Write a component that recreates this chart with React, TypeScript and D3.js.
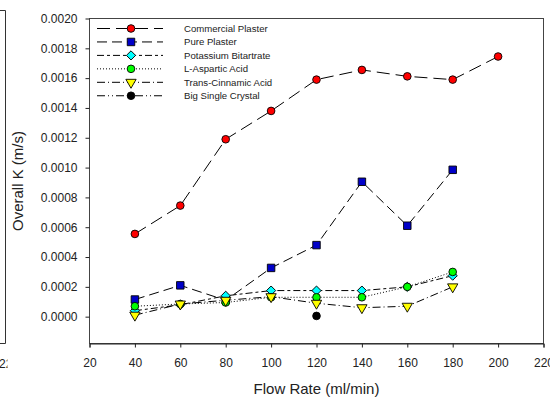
import { useEffect, useRef } from 'react'
import * as d3 from 'd3'

// flow rates (ml/min)
const flowRates = [40, 60, 80, 100, 120, 140, 160, 180, 200]

// Overall K (m/s)
const commercialPlaster = [0.000555, 0.000745, 0.00119, 0.00138, 0.00159, 0.001655, 0.001612, 0.00159, 0.001745]
const purePlaster = [0.000115, 0.00021, 0.00011, 0.000327, 0.00048, 0.000905, 0.00061, 0.000985]
const potassiumBitartrate = [0.00004, 0.00008, 0.00014, 0.000175, 0.000175, 0.000175, 0.0002, 0.000275]
const lAsparticAcid = [0.00007, 0.000085, 0.000095, 0.00013, 0.00013, 0.00013, 0.0002, 0.0003]
const transCinnamicAcid = [0.00001, 0.000085, 0.00011, 0.000134, 0.00009, 0.00006, 0.00007, 0.0002]
const bigSingleCrystalX = [120]
const bigSingleCrystal = [0.000005]

const xTicks = [20, 40, 60, 80, 100, 120, 140, 160, 180, 200, 220]
const yTicks = [0, 0.0002, 0.0004, 0.0006, 0.0008, 0.001, 0.0012, 0.0014, 0.0016, 0.0018, 0.002]

interface Series {
  name: string
  xs: number[]
  ys: number[]
  fill: string
  symbol: 'circle' | 'square' | 'diamond' | 'triangleDown'
  dash: string
}

const series: Series[] = [
  { name: 'Commercial Plaster', xs: flowRates, ys: commercialPlaster, fill: '#ff0000', symbol: 'circle', dash: '13,6' },
  { name: 'Pure Plaster', xs: flowRates, ys: purePlaster, fill: '#0000c8', symbol: 'square', dash: '10,5' },
  { name: 'Potassium Bitartrate', xs: flowRates, ys: potassiumBitartrate, fill: '#00ffff', symbol: 'diamond', dash: '7,3,3,3' },
  { name: 'L-Aspartic Acid', xs: flowRates, ys: lAsparticAcid, fill: '#00ff00', symbol: 'circle', dash: '1,2' },
  { name: 'Trans-Cinnamic Acid', xs: flowRates, ys: transCinnamicAcid, fill: '#ffff00', symbol: 'triangleDown', dash: '8,3,1,3' },
  { name: 'Big Single Crystal', xs: bigSingleCrystalX, ys: bigSingleCrystal, fill: '#000000', symbol: 'circle', dash: '8,3,1,3,1,3' },
]

const FONT = '"Liberation Sans", Arial, Helvetica, sans-serif'

export default function App() {
  const svgRef = useRef<SVGSVGElement>(null)

  useEffect(() => {
    if (!svgRef.current) return
    const width = 550
    const height = 398
    const left = 89.5
    const right = 543.5
    const top = 18.5
    const bottom = 343.5

    const svg = d3.select(svgRef.current)
    svg.selectAll('*').remove()
    svg.attr('width', width).attr('height', height)

    svg.append('rect').attr('width', width).attr('height', height).attr('fill', '#fff')

    const xScale = d3.scaleLinear().domain([20, 220]).range([left, right])
    const yScale = d3.scaleLinear().domain([-0.00018, 0.002]).range([bottom, top])

    // fragment of the neighbouring chart at the left edge
    svg.append('path')
      .attr('d', `M0,10.5 H5.5 V${bottom} H0`)
      .attr('fill', 'none')
      .attr('stroke', '#333')
      .attr('stroke-width', 1)
    svg.append('defs').append('clipPath').attr('id', 'frag')
      .append('rect').attr('x', 0).attr('y', 340).attr('width', 7.5).attr('height', 40)
    svg.append('text')
      .attr('x', -1)
      .attr('y', 368)
      .attr('clip-path', 'url(#frag)')
      .attr('font-family', FONT)
      .attr('font-size', 12)
      .attr('fill', '#222')
      .text('220')

    // frame
    svg.append('rect')
      .attr('x', left).attr('y', top)
      .attr('width', right - left).attr('height', bottom - top)
      .attr('fill', 'none')
      .attr('stroke', '#444')
      .attr('stroke-width', 1)

    // X axis
    const xAxis = svg.append('g')
      .attr('transform', `translate(0,${bottom})`)
      .call(d3.axisBottom(xScale).tickValues(xTicks).tickSize(4).tickPadding(11).tickFormat(d => String(d)))
    xAxis.select('.domain').attr('stroke', '#222')
    xAxis.selectAll('line').attr('stroke', '#222')
    xAxis.selectAll('text').attr('font-family', FONT).attr('font-size', 12).attr('fill', '#222')

    // Y axis
    const yAxis = svg.append('g')
      .attr('transform', `translate(${left},0)`)
      .call(d3.axisLeft(yScale).tickValues(yTicks).tickSize(4).tickPadding(8).tickFormat(d => (+d).toFixed(4)))
    yAxis.select('.domain').remove()
    yAxis.selectAll('line').attr('stroke', '#222')
    yAxis.selectAll('text').attr('font-family', FONT).attr('font-size', 12).attr('fill', '#222')

    // axis titles
    svg.append('text')
      .attr('x', (left + right) / 2)
      .attr('y', 394)
      .attr('text-anchor', 'middle')
      .attr('font-family', FONT)
      .attr('font-size', 15)
      .attr('fill', '#222')
      .text('Flow Rate (ml/min)')

    svg.append('text')
      .attr('transform', `translate(22.5,${(top + bottom) / 2}) rotate(-90)`)
      .attr('text-anchor', 'middle')
      .attr('font-family', FONT)
      .attr('font-size', 15)
      .attr('fill', '#222')
      .text('Overall K (m/s)')

    const drawSymbol = (g: d3.Selection<SVGGElement, unknown, null, undefined>, s: Series, x: number, y: number) => {
      let path = ''
      let rot = 0
      if (s.symbol === 'circle') path = d3.symbol(d3.symbolCircle, 46)() || ''
      if (s.symbol === 'square') path = d3.symbol(d3.symbolSquare, 56)() || ''
      if (s.symbol === 'diamond') { path = d3.symbol(d3.symbolSquare, 42)() || ''; rot = 45 }
      if (s.symbol === 'triangleDown') { path = d3.symbol(d3.symbolTriangle, 46)() || ''; rot = 180 }
      g.append('path')
        .attr('d', path)
        .attr('transform', `translate(${x},${y}) rotate(${rot})`)
        .attr('fill', s.fill)
        .attr('stroke', '#000')
        .attr('stroke-width', 0.9)
    }

    const line = d3.line<[number, number]>()
      .x(d => xScale(d[0]))
      .y(d => yScale(d[1]))

    // series
    series.forEach(s => {
      const g = svg.append('g') as d3.Selection<SVGGElement, unknown, null, undefined>
      const pts = s.ys.map((v, i) => [s.xs[i], v] as [number, number])
      if (pts.length > 1) {
        g.append('path')
          .datum(pts)
          .attr('d', line)
          .attr('fill', 'none')
          .attr('stroke', '#000')
          .attr('stroke-width', 1)
          .attr('stroke-dasharray', s.dash)
      }
      pts.forEach(p => drawSymbol(g, s, xScale(p[0]), yScale(p[1])))
    })

    // legend
    const legend = svg.append('g') as d3.Selection<SVGGElement, unknown, null, undefined>
    series.forEach((s, i) => {
      const y = 28.5 + i * 13.45
      legend.append('line')
        .attr('x1', 97).attr('x2', 163)
        .attr('y1', y).attr('y2', y)
        .attr('stroke', '#000')
        .attr('stroke-width', 1)
        .attr('stroke-dasharray', s.dash)
      drawSymbol(legend, s, 131, y)
      legend.append('text')
        .attr('x', 184)
        .attr('y', y)
        .attr('dy', '0.35em')
        .attr('font-family', FONT)
        .attr('font-size', 9.6)
        .attr('fill', '#222')
        .text(s.name)
    })
  }, [])

  return (
    <div style={{ position: 'absolute', left: 0, top: 0, width: 550, height: 398 }}>
      <svg ref={svgRef} style={{ display: 'block' }} />
    </div>
  )
}
